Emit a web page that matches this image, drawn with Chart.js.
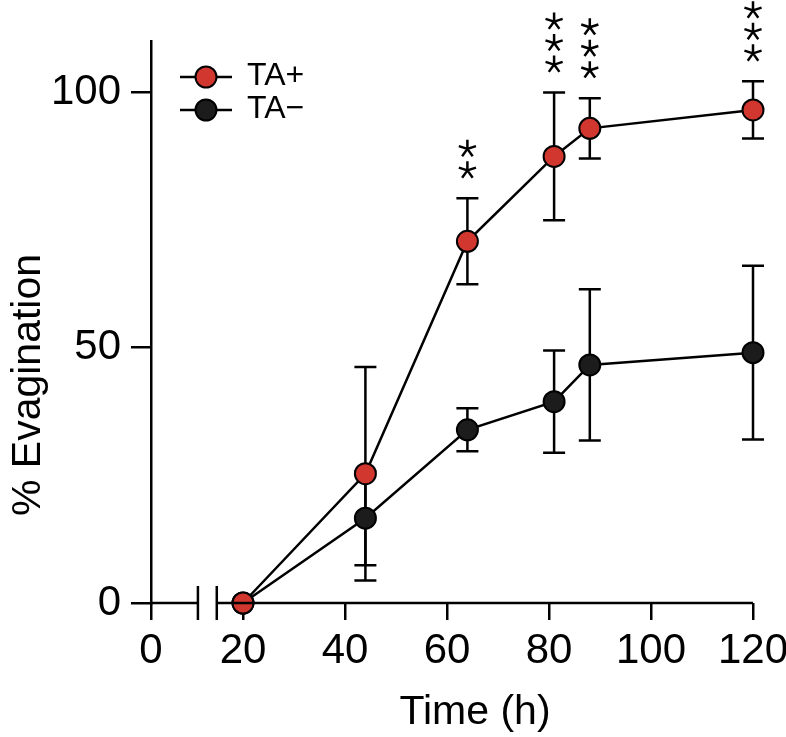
<!DOCTYPE html>
<html>
<head>
<meta charset="utf-8">
<script src="https://cdn.jsdelivr.net/npm/chart.js@4/dist/chart.umd.min.js"></script>
<style>
  html, body { margin: 0; padding: 0; background: #fff; }
  #wrap { width: 786px; height: 737px; }
</style>
</head>
<body>
<div id="wrap"><canvas id="c" width="786" height="737"></canvas></div>
<script>
// ---- data ----
const TIMES = [20, 44, 64, 81, 88, 120];
const TA_PLUS = [0, 25.3, 70.8, 87.4, 92.9, 96.5];
const TA_PLUS_ERR = [0, 20.9, 8.4, 12.5, 5.9, 5.6];
const TA_MINUS = [0, 16.6, 33.9, 39.4, 46.6, 49.0];
const TA_MINUS_ERR = [0, 9.2, 4.2, 10.0, 14.8, 17.0];
const SIGNIF = ['', '', '**', '***', '***', '***'];
const X_TICKS = [0, 20, 40, 60, 80, 100, 120];
const Y_TICKS = [0, 50, 100];
const SERIES_NAMES = ['TA+', 'TA\u2212'];
const X_TITLE = 'Time (h)';
const Y_TITLE = '% Evagination';

// ---- style ----
const RED = '#d2372f';
const DARK = '#1c1c1c';
const FONT = '"Liberation Sans", Arial, Helvetica, sans-serif';

// broken x axis: values below BREAK_FROM are compressed
const BREAK_FROM = 20;
const SHRINK = 0.902;
const BREAK_MARKS = [10.2, 14.3];

class BrokenLinearScale extends Chart.LinearScale {
  warp(v) { return v >= BREAK_FROM ? v : BREAK_FROM - (BREAK_FROM - v) * SHRINK; }
  getPixelForValue(v) {
    if (v === null || v === undefined || isNaN(v)) return NaN;
    const lo = this.warp(this.min);
    return this.getPixelForDecimal((this.warp(v) - lo) / (this.max - lo));
  }
}
BrokenLinearScale.id = 'brokenLinear';
BrokenLinearScale.defaults = Chart.LinearScale.defaults;
Chart.register(BrokenLinearScale);

function pts(ys) { return TIMES.map((t, i) => ({ x: t, y: ys[i] })); }

const errorBars = {
  id: 'errorBars',
  beforeDatasetsDraw(chart) {
    const ctx = chart.ctx, xs = chart.scales.x, ys = chart.scales.y;
    const errs = [TA_PLUS_ERR, TA_MINUS_ERR];
    const vals = [TA_PLUS, TA_MINUS];
    ctx.save();
    ctx.strokeStyle = '#000';
    ctx.lineWidth = 2.5;
    for (let d = 0; d < 2; d++) {
      for (let i = 0; i < TIMES.length; i++) {
        const e = errs[d][i];
        if (!e) continue;
        const px = xs.getPixelForValue(TIMES[i]);
        const top = ys.getPixelForValue(vals[d][i] + e);
        const bot = ys.getPixelForValue(vals[d][i] - e);
        ctx.beginPath();
        ctx.moveTo(px, top); ctx.lineTo(px, bot);
        ctx.moveTo(px - 11, top); ctx.lineTo(px + 11, top);
        ctx.moveTo(px - 11, bot); ctx.lineTo(px + 11, bot);
        ctx.stroke();
      }
    }
    ctx.restore();
  }
};

function drawStar(ctx, cx, cy, r) {
  ctx.beginPath();
  for (let k = 0; k < 5; k++) {
    const a = (-90 + k * 72) * Math.PI / 180;
    ctx.moveTo(cx, cy);
    ctx.lineTo(cx + r * Math.cos(a), cy + r * Math.sin(a));
  }
  ctx.stroke();
}

const decorations = {
  id: 'decorations',
  afterDraw(chart) {
    const ctx = chart.ctx, xs = chart.scales.x, ys = chart.scales.y;
    const area = chart.chartArea;
    ctx.save();
    ctx.strokeStyle = '#000';
    ctx.lineWidth = 2.5;
    // x axis line with break
    const b0 = xs.getPixelForValue(BREAK_MARKS[0]);
    const b1 = xs.getPixelForValue(BREAK_MARKS[1]);
    ctx.beginPath();
    ctx.moveTo(area.left, area.bottom); ctx.lineTo(b0, area.bottom);
    ctx.moveTo(b1, area.bottom); ctx.lineTo(area.right, area.bottom);
    ctx.moveTo(b0, area.bottom - 17); ctx.lineTo(b0, area.bottom + 17);
    ctx.moveTo(b1, area.bottom - 17); ctx.lineTo(b1, area.bottom + 17);
    ctx.stroke();

    // significance stars
    ctx.lineWidth = 2.5;
    for (let i = 0; i < TIMES.length; i++) {
      const n = SIGNIF[i].length;
      if (!n) continue;
      const px = xs.getPixelForValue(TIMES[i]);
      const cap = ys.getPixelForValue(TA_PLUS[i] + TA_PLUS_ERR[i]);
      for (let k = 0; k < n; k++) {
        drawStar(ctx, px, cap - 28 - k * 21.5, 9);
      }
    }

    // legend
    const colors = [RED, DARK];
    for (let d = 0; d < 2; d++) {
      const ly = area.top + 36 + d * 33;
      const lx = area.left + 55;
      ctx.lineWidth = 2.5;
      ctx.beginPath();
      ctx.moveTo(lx - 26, ly); ctx.lineTo(lx + 26, ly);
      ctx.stroke();
      ctx.beginPath();
      ctx.arc(lx, ly, 10.5, 0, Math.PI * 2);
      ctx.fillStyle = colors[d];
      ctx.fill();
      ctx.lineWidth = 2;
      ctx.stroke();
      ctx.fillStyle = '#000';
      ctx.font = '32px ' + FONT;
      ctx.textBaseline = 'middle';
      ctx.textAlign = 'left';
      ctx.fillText(SERIES_NAMES[d], lx + 41, ly - 1);
    }

    // axis titles
    ctx.fillStyle = '#000';
    ctx.font = '41px ' + FONT;
    ctx.textAlign = 'center';
    ctx.textBaseline = 'alphabetic';
    ctx.fillText(X_TITLE, 475, 724);
    ctx.save();
    ctx.translate(40, 385);
    ctx.rotate(-Math.PI / 2);
    ctx.fillText(Y_TITLE, 0, 0);
    ctx.restore();
    ctx.restore();
  }
};

new Chart(document.getElementById('c'), {
  type: 'line',
  data: {
    datasets: [
      {
        label: SERIES_NAMES[0], data: pts(TA_PLUS),
        borderColor: '#000', borderWidth: 2.5, backgroundColor: RED,
        pointRadius: 10.5, pointBorderWidth: 2, pointBorderColor: '#000',
        pointBackgroundColor: RED, tension: 0, clip: false
      },
      {
        label: SERIES_NAMES[1], data: pts(TA_MINUS),
        borderColor: '#000', borderWidth: 2.5, backgroundColor: DARK,
        pointRadius: 10.5, pointBorderWidth: 2, pointBorderColor: '#000',
        pointBackgroundColor: DARK, tension: 0, clip: false
      }
    ]
  },
  options: {
    responsive: false,
    animation: false,
    events: [],
    layout: { padding: { left: 0, right: 33, top: 41, bottom: 0 } },
    plugins: { legend: { display: false }, tooltip: { enabled: false } },
    scales: {
      x: {
        type: 'brokenLinear', min: 0, max: 120,
        afterBuildTicks: s => { s.ticks = X_TICKS.map(v => ({ value: v })); },
        afterFit: s => { s.height = 134; s.paddingLeft = 0; s.paddingRight = 0; },
        grid: { display: true, drawOnChartArea: false, drawTicks: true, tickLength: 17, color: '#000', lineWidth: 2.5 },
        border: { display: false },
        ticks: { color: '#000', font: { family: FONT, size: 42 }, padding: 6, maxRotation: 0, autoSkip: false,
                 callback: v => String(v) }
      },
      y: {
        type: 'linear', min: 0, max: 110,
        afterBuildTicks: s => { s.ticks = Y_TICKS.map(v => ({ value: v })); },
        afterFit: s => { s.width = 151; s.paddingTop = 0; s.paddingBottom = 0; },
        grid: { display: true, drawOnChartArea: false, drawTicks: true, tickLength: 20, color: '#000', lineWidth: 2.5 },
        border: { display: true, color: '#000', width: 2.5 },
        ticks: { color: '#000', font: { family: FONT, size: 42 }, padding: 10, callback: v => String(v) }
      }
    }
  },
  plugins: [errorBars, decorations]
});
</script>
</body>
</html>
